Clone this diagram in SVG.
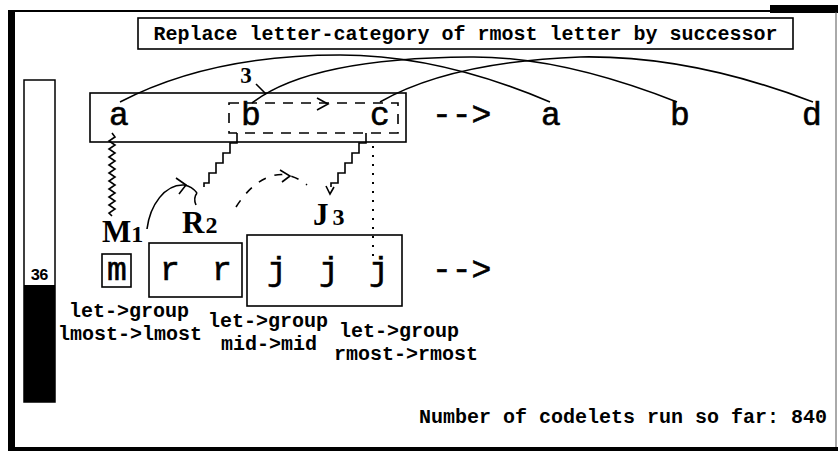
<svg xmlns="http://www.w3.org/2000/svg" width="838" height="451" viewBox="0 0 838 451">
<style>
.box{fill:none;stroke:#000;stroke-width:1.6}
.ln{fill:none;stroke:#000;stroke-width:1.6}
.ltr{font-family:"Liberation Mono",monospace;font-size:33px;fill:#000;stroke:#000;stroke-width:0.6}
.lbl{font-family:"Liberation Mono",monospace;font-weight:bold;font-size:20px;fill:#000}
.big{font-family:"Liberation Serif",serif;font-weight:bold;fill:#000}
</style>
<rect x="0" y="0" width="838" height="451" fill="#fff"/>
<g id="frame">
<line x1="10" y1="11" x2="838" y2="11" stroke="#000" stroke-width="2"/>
<rect x="770" y="5" width="68" height="8" fill="#000"/>
<rect x="8" y="10" width="7" height="441" fill="#000"/>
<rect x="8" y="447" width="830" height="4" fill="#000"/>
<line x1="836" y1="12" x2="836" y2="447" stroke="#555" stroke-width="1"/>
</g>
<g id="title">
<rect class="box" x="138" y="18" width="655" height="31"/>
<text class="lbl" x="465.5" y="40" text-anchor="middle">Replace letter-category of rmost letter by successor</text>
</g>
<g id="temperature">
<rect x="24" y="80" width="31" height="322" fill="#fff" stroke="#000" stroke-width="1.5"/>
<rect x="24" y="285" width="31" height="117" fill="#000"/>
<text x="39" y="280" text-anchor="middle" font-family="Liberation Mono,monospace" font-weight="bold" font-size="16" letter-spacing="-1">36</text>
</g>
<g id="initial-string">
<rect class="box" x="90" y="93" width="316" height="49"/>
<text class="ltr" x="119" y="125" text-anchor="middle">a</text>
<text class="ltr" x="251" y="125" text-anchor="middle">b</text>
<text class="ltr" x="380" y="125" text-anchor="middle">c</text>
</g>
<g id="bc-group">
<rect x="229" y="103" width="169" height="30" fill="none" stroke="#000" stroke-width="1.6" stroke-dasharray="10,8"/>
<polyline class="ln" points="317,98 328,104 317,110"/>
</g>
<g id="arrow-top"><text class="ltr" x="432" y="125">--&gt;</text></g>
<g id="modified-string">
<text class="ltr" x="551" y="125" text-anchor="middle">a</text>
<text class="ltr" x="680" y="125" text-anchor="middle">b</text>
<text class="ltr" x="812" y="125" text-anchor="middle">d</text>
</g>
<g id="target-m">
<rect class="box" x="102" y="254" width="29" height="33"/>
<text class="ltr" x="117" y="280" text-anchor="middle">m</text>
</g>
<g id="target-rr">
<rect class="box" x="149" y="243" width="93" height="54"/>
<text class="ltr" x="170" y="280" text-anchor="middle">r</text>
<text class="ltr" x="222" y="280" text-anchor="middle">r</text>
</g>
<g id="target-jjj">
<rect class="box" x="247" y="235" width="155" height="71"/>
<text class="ltr" x="277" y="280" text-anchor="middle">j</text>
<text class="ltr" x="329" y="280" text-anchor="middle">j</text>
<text class="ltr" x="379" y="280" text-anchor="middle">j</text>
</g>
<g id="arrow-bottom"><text class="ltr" x="432" y="280">--&gt;</text></g>
<g id="bond-labels">
<text class="big" x="102" y="242"><tspan font-size="31">M</tspan><tspan font-size="24">1</tspan></text>
<text class="big" x="182" y="233"><tspan font-size="31">R</tspan><tspan font-size="24" dx="1">2</tspan></text>
<text class="big" x="313" y="225"><tspan font-size="31">J</tspan><tspan font-size="24" dx="4">3</tspan></text>
<text class="big" x="246" y="83" text-anchor="middle" font-size="23">3</text>
</g>
<g id="map-label-1">
<text class="lbl" x="129" y="317" text-anchor="middle">let-&gt;group</text>
<text class="lbl" x="130" y="340" text-anchor="middle">lmost-&gt;lmost</text>
</g>
<g id="map-label-2">
<text class="lbl" x="268" y="327" text-anchor="middle">let-&gt;group</text>
<text class="lbl" x="269" y="350" text-anchor="middle">mid-&gt;mid</text>
</g>
<g id="map-label-3">
<text class="lbl" x="399" y="337" text-anchor="middle">let-&gt;group</text>
<text class="lbl" x="406" y="360" text-anchor="middle">rmost-&gt;rmost</text>
</g>
<g id="codelet-count">
<text class="lbl" x="827" y="423" text-anchor="end">Number of codelets run so far: 840</text>
</g>
<g id="connectors">
<path class="ln" d="M120,102 Q210,55 340,55 Q440,55 550,102"/>
<path class="ln" d="M252,103 Q310,58 470,57 Q560,56 677,102"/>
<path class="ln" d="M380,102 Q450,62 580,57 Q690,55 813,102"/>
<line class="ln" x1="256" y1="84" x2="266" y2="94"/>
<path class="ln" d="M112,133 l3,4 l-6,4 l6,4 l-6,4 l6,4 l-6,4 l6,4 l-6,4 l6,4 l-6,4 l6,4 l-6,4 l6,4 l-6,4 l6,4 l-6,4 l6,4 l-6,4 l6,4 l-6,4 l3,3"/>
<path class="ln" d="M237,133 v10 h-7 v10 h-7 v10 h-7 v10 h-7 v10 h-5 v4"/>
<path class="ln" d="M197,193 q-4,5 -1,12"/>
<path class="ln" d="M147,229 C150,205 165,184 184,185 C190,186 194,189 197,193"/>
<polyline class="ln" points="176,178 186,185 179,194"/>
<path class="ln" d="M366,133 v10 h-7 v10 h-7 v10 h-7 v10 h-7 v10 h-7 v4"/>
<polyline class="ln" points="326,186 330,194 334,187"/>
<path class="ln" d="M236,207 C250,185 268,172 287,175 C295,177 301,180 307,185" stroke-dasharray="8,9"/>
<polyline class="ln" points="280,170 290,176 282,182"/>
<line x1="373" y1="146" x2="373" y2="258" stroke="#000" stroke-width="2" stroke-dasharray="2,7"/>
</g>
</svg>
